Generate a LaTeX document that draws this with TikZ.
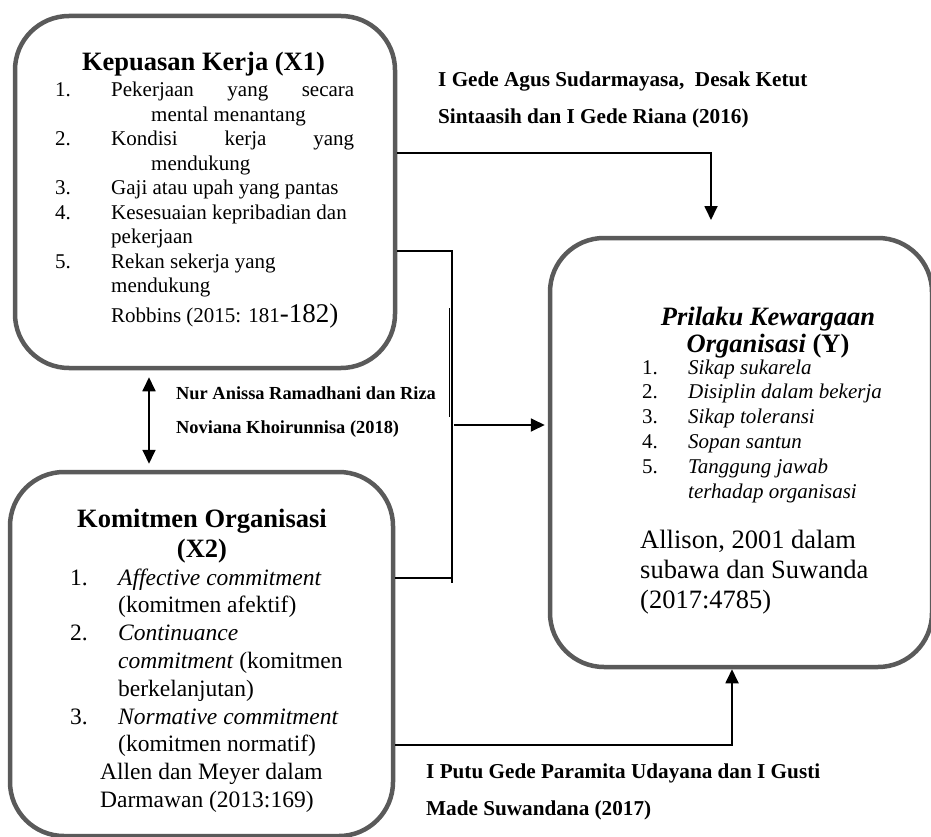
\documentclass[tikz,border=0pt]{standalone}
\usepackage{fontspec}
\setmainfont{Liberation Serif}
\usepackage{array}
\usetikzlibrary{positioning,arrows.meta}
\definecolor{panelgrey}{HTML}{5A5A5A}

\begin{document}
\begin{tikzpicture}[x=1pt,y=-1pt,
  panel/.style={draw=panelgrey,line width=4.5pt,rounded corners=54pt,fill=white,inner sep=0pt},
  ttl/.style={inner sep=0pt,anchor=base,font=\fontsize{26.5}{30}\selectfont\bfseries},
  lst/.style={inner sep=0pt,anchor=base west,font=\fontsize{21}{24.8}\selectfont},
  cite/.style={inner sep=0pt,anchor=base west,font=\fontsize{21.2}{36.5}\selectfont\bfseries},
  link/.style={draw=black,line width=1.8pt},
  tip/.style={-{Triangle[length=14pt,width=13pt]}}
]
\useasboundingbox (0,0) rectangle (931,837);

\node[panel,minimum width=380pt,minimum height=352pt] (kx1) at (205,192) {};
\node[panel,minimum width=383pt,minimum height=364pt] (kx2) at (201.5,654) {};
\node[panel,minimum width=382pt,minimum height=429pt] (ky) at (741,452.5) {};

% Kepuasan Kerja
\node[ttl] (kx1title) at (203.5,71) {Kepuasan Kerja (X1)};
\node[lst,font=\fontsize{21}{24.5}\selectfont] (kx1list) at (55,97) {\begin{tabular}[t]{@{}p{56pt}@{}l@{}}
1. & \hbox to 243pt{Pekerjaan\hfill yang\hfill secara}\\
   & \hspace*{40pt}mental menantang\\
2. & \hbox to 243pt{Kondisi\hfill kerja\hfill yang}\\
   & \hspace*{40pt}mendukung\\
3. & Gaji atau upah yang pantas\\
4. & Kesesuaian kepribadian dan\\
   & pekerjaan\\
5. & Rekan sekerja yang\\
   & mendukung\\[3pt]
   & Robbins (2015: 181{\fontsize{27}{27}\selectfont -182)}
\end{tabular}};

% Komitmen Organisasi
\node[ttl] (kx2title) at (202,527) {\begin{tabular}[t]{@{}c@{}}Komitmen Organisasi\\(X2)\end{tabular}};
\node[lst,font=\fontsize{23.5}{27.8}\selectfont] (kx2list) at (70,585) {\begin{tabular}[t]{@{}p{48pt}@{}l@{}}
1. & \textit{Affective commitment}\\
   & (komitmen afektif)\\
2. & \textit{Continuance}\\
   & \textit{commitment} (komitmen\\
   & berkelanjutan)\\
3. & \textit{Normative commitment}\\
   & (komitmen normatif)\\
\multicolumn{2}{@{}l@{}}{\hspace*{30pt}Allen dan Meyer dalam}\\
\multicolumn{2}{@{}l@{}}{\hspace*{30pt}Darmawan (2013:169)}
\end{tabular}};

% Prilaku Kewargaan Organisasi
\node[ttl,font=\fontsize{26.5}{27}\selectfont\bfseries] (kytitle) at (768,325) {\begin{tabular}[t]{@{}c@{}}\textit{Prilaku Kewargaan}\\\textit{Organisasi} (Y)\end{tabular}};
\node[lst] (kylist) at (642,374) {\begin{tabular}[t]{@{}p{46pt}@{}l@{}}
1. & \textit{Sikap sukarela}\\
2. & \textit{Disiplin dalam bekerja}\\
3. & \textit{Sikap toleransi}\\
4. & \textit{Sopan santun}\\
5. & \textit{Tanggung jawab}\\
   & \textit{terhadap organisasi}
\end{tabular}};
\node[lst,font=\fontsize{26.5}{30}\selectfont] (kysrc) at (640,548) {\begin{tabular}[t]{@{}l@{}}
Allison, 2001 dalam\\
subawa dan Suwanda\\
(2017:4785)
\end{tabular}};

% citations on the paths
\node[cite] (gede) at (438,87) {\begin{tabular}[t]{@{}l@{}}I Gede Agus Sudarmayasa,\ \ Desak Ketut\\Sintaasih dan I Gede Riana (2016)\end{tabular}};
\node[cite,font=\fontsize{18.4}{34}\selectfont\bfseries] (nur) at (176,399) {\begin{tabular}[t]{@{}l@{}}Nur Anissa Ramadhani dan Riza\\Noviana Khoirunnisa (2018)\end{tabular}};
\node[cite,font=\fontsize{21.2}{37}\selectfont\bfseries] (putu) at (426,778) {\begin{tabular}[t]{@{}l@{}}I Putu Gede Paramita Udayana dan I Gusti\\Made Suwandana (2017)\end{tabular}};

% connectors
\coordinate (gedeY) at (0,153);
\coordinate (gedeTip) at (711,220);
\coordinate (brkTop) at (452,251);
\coordinate (brkBot) at (452,583);
\coordinate (brkLow) at (452,578);
\coordinate (brkOut) at (454,425);
\coordinate (nurX) at (149,0);
\coordinate (putuY) at (0,745);
\coordinate (putuX) at (732,0);

\draw[link,tip] (kx1.east |- gedeY) -| (gedeTip);
\draw[link] (kx1.east |- brkTop) -- (brkTop) -- (brkBot);
\draw[link] (kx2.east |- brkLow) -- (brkLow);
\draw[link] (449.5,308) -- (449.5,417);
\draw[link,tip,shorten >=3pt] (brkOut) -- (ky.west |- brkOut);
\draw[link,{Triangle[length=14pt,width=13pt]}-{Triangle[length=14pt,width=13pt]},shorten <=7pt,shorten >=6pt] (kx1.south -| nurX) -- (kx2.north -| nurX);
\draw[link,tip] (kx2.east |- putuY) -| (putuX |- ky.south);
\end{tikzpicture}
\end{document}
